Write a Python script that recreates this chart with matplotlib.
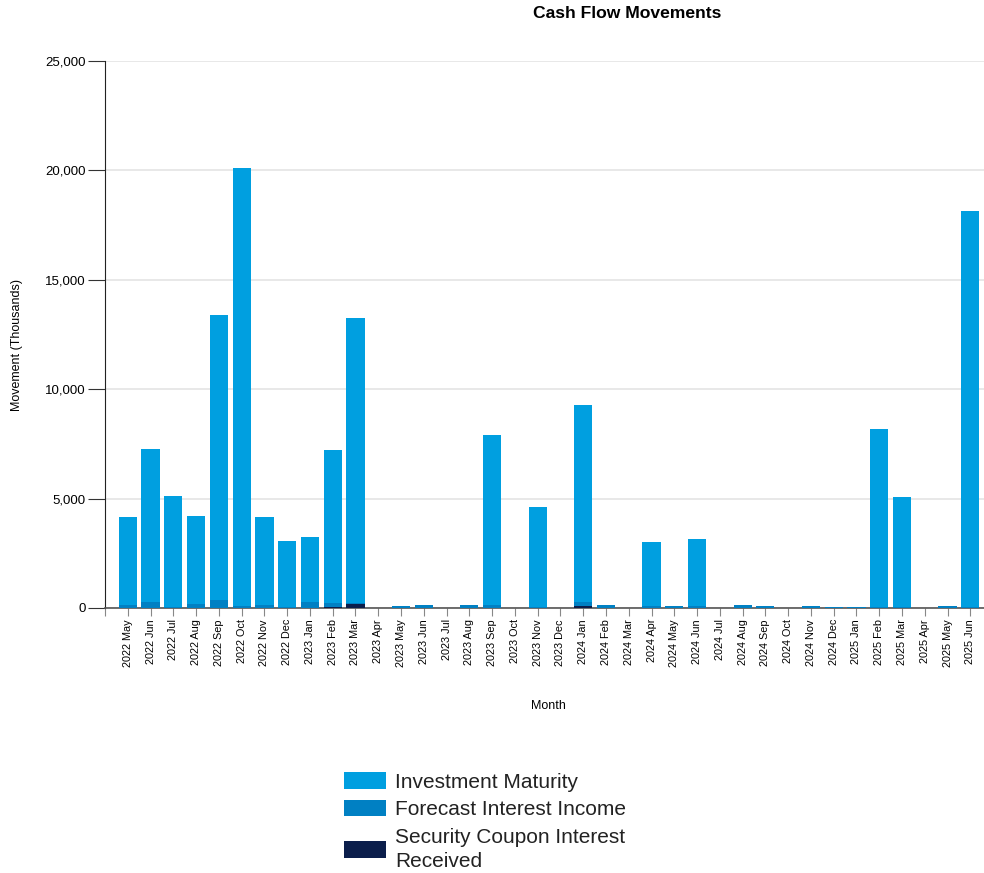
import numpy as np
import matplotlib
matplotlib.use("Agg")
import matplotlib.pyplot as plt
from matplotlib.ticker import FuncFormatter

plt.rcParams['font.family'] = ['Liberation Sans', 'DejaVu Sans']

# data (thousands)
months = ["2022 May", "2022 Jun", "2022 Jul", "2022 Aug", "2022 Sep", "2022 Oct",
          "2022 Nov", "2022 Dec", "2023 Jan", "2023 Feb", "2023 Mar", "2023 Apr",
          "2023 May", "2023 Jun", "2023 Jul", "2023 Aug", "2023 Sep", "2023 Oct",
          "2023 Nov", "2023 Dec", "2024 Jan", "2024 Feb", "2024 Mar", "2024 Apr",
          "2024 May", "2024 Jun", "2024 Jul", "2024 Aug", "2024 Sep", "2024 Oct",
          "2024 Nov", "2024 Dec", "2025 Jan", "2025 Feb", "2025 Mar", "2025 Apr",
          "2025 May", "2025 Jun"]

coupon_received = [0, 0, 0, 0, 0, 0,
                   0, 0, 0, 45, 200, 0,
                   0, 0, 0, 0, 0, 0,
                   0, 0, 90, 0, 0, 0,
                   0, 0, 0, 0, 0, 0,
                   0, 0, 0, 0, 0, 0,
                   0, 0]

forecast_interest = [150, 260, 40, 180, 350, 70,
                     120, 40, 260, 170, 50, 0,
                     110, 140, 0, 150, 150, 0,
                     60, 0, 170, 140, 0, 70,
                     90, 80, 0, 150, 70, 0,
                     100, 30, 30, 60, 50, 0,
                     100, 60]

investment_maturity = [4000, 7010, 5080, 4020, 13040, 20040,
                       4040, 3020, 2980, 7005, 13000, 0,
                       0, 0, 0, 0, 7760, 0,
                       4560, 0, 9020, 0, 0, 2950,
                       0, 3070, 0, 0, 0, 0,
                       0, 0, 0, 8120, 5020, 0,
                       0, 18080]

c_mat = "#009FE0"
c_fore = "#0080C3"
c_coup = "#0B1E4B"

fig = plt.figure(figsize=(9.84, 8.73), dpi=100)
ax = fig.add_axes([105 / 984, (873 - 608) / 873, 879 / 984, 547 / 873])

x = np.arange(len(months))
w = 0.8
coup = np.array(coupon_received)
fore = np.array(forecast_interest)
mat = np.array(investment_maturity)

b1 = ax.bar(x, coup, w, color=c_coup, zorder=3, label="Security Coupon Interest\nReceived")
b2 = ax.bar(x, fore, w, bottom=coup, color=c_fore, zorder=3, label="Forecast Interest Income")
b3 = ax.bar(x, mat, w, bottom=coup + fore, color=c_mat, zorder=3, label="Investment Maturity")

ax.set_xlim(-1, 37.6)
ax.set_ylim(0, 25000)
ax.set_yticks(np.arange(0, 25001, 5000))
ax.yaxis.set_major_formatter(FuncFormatter(lambda v, p: f"{int(v):,}"))
ax.grid(axis="y", color="#e4e4e4", linewidth=1.2, zorder=0)

ax.set_xticks(list(x) + [-1])
ax.set_xticklabels(months + [""], rotation=90, fontsize=7.8)
ax.tick_params(axis="x", length=6, color="#888888", pad=2)
ax.tick_params(axis="y", length=12, color="#333333", labelsize=9.5, pad=2)

for s in ["top", "right"]:
    ax.spines[s].set_visible(False)
ax.spines["left"].set_color("#222222")
ax.spines["bottom"].set_color("#555555")
ax.spines["bottom"].set_linewidth(1.2)

fig.text(627 / 984, 1 - 14 / 873, "Cash Flow Movements", ha="center", va="center",
         fontsize=12.6, fontweight="bold")
fig.text(17 / 984, 1 - 345 / 873, "Movement (Thousands)", ha="center", va="center",
         rotation=90, fontsize=9)
fig.text(548 / 984, 1 - 706 / 873, "Month", ha="center", va="center", fontsize=9)

leg = fig.legend(handles=[b3, b2, b1], loc="upper left",
                 bbox_to_anchor=(336 / 984, 1 - 764 / 873), frameon=False,
                 fontsize=15, handlelength=2.0, handleheight=0.82,
                 handletextpad=0.45, labelspacing=0.4, borderaxespad=0)
for t in leg.get_texts():
    t.set_linespacing(1.35)
    t.set_color("#222222")

plt.savefig("out.png", dpi=100)
